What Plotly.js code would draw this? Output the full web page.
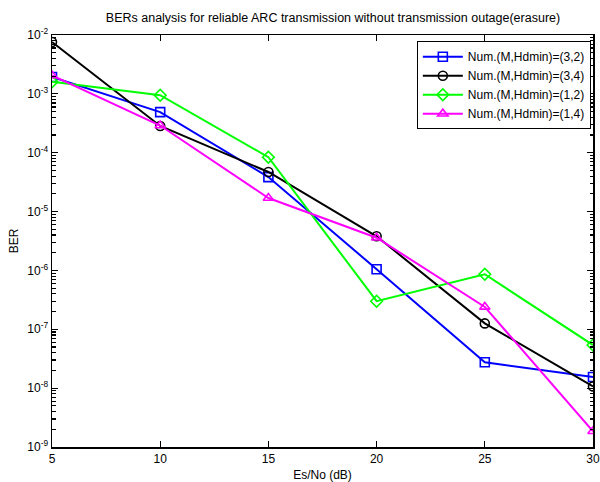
<!DOCTYPE html>
<html>
<head>
<meta charset="utf-8">
<script src="https://cdn.plot.ly/plotly-3.0.1.min.js"></script>
<style>html,body{margin:0;padding:0;background:#fff;}#chart{width:600px;height:482px;}</style>
</head>
<body>
<div id="chart"></div>
<script>
const esNo = [5, 10, 15, 20, 25, 30];
const ber_3_2 = [1.93e-3, 4.9e-4, 3.85e-5, 1.05e-6, 2.75e-8, 1.55e-8];
const ber_3_4 = [7.6e-3, 2.85e-4, 4.7e-5, 3.8e-6, 1.26e-7, 1.07e-8];
const ber_1_2 = [1.6e-3, 9.5e-4, 8.4e-5, 3.0e-7, 8.6e-7, 5.4e-8];
const ber_1_4 = [2.05e-3, 2.9e-4, 1.7e-5, 3.6e-6, 2.4e-7, 1.85e-9];
const seriesNames = ['Num.(M,Hdmin)=(3,2)', 'Num.(M,Hdmin)=(3,4)', 'Num.(M,Hdmin)=(1,2)', 'Num.(M,Hdmin)=(1,4)'];
const xTicks = [5, 10, 15, 20, 25, 30];
const yTickExp = [-2, -3, -4, -5, -6, -7, -8, -9];

const colors = ['#0000ff', '#000000', '#00ff00', '#ff00ff'];
const symbols = ['square-open', 'circle-open', 'diamond-open', 'triangle-up-open'];
const allY = [ber_3_2, ber_3_4, ber_1_2, ber_1_4];

const traces = allY.map((ys, i) => ({
  x: esNo, y: ys, name: seriesNames[i], type: 'scatter', mode: 'lines+markers',
  line: {color: colors[i], width: 2},
  marker: {symbol: symbols[i], size: 9, color: colors[i], line: {width: 1.6, color: colors[i]}}
}));

const yTickVals = yTickExp.map(e => Math.pow(10, e));
const yTickText = yTickExp.map(e => '10<sup>' + e + '</sup>');
const minorVals = [];
yTickExp.slice(1).forEach(e => { for (let k = 2; k <= 9; k++) minorVals.push(k * Math.pow(10, e)); });

// transparent helper trace so the minor-tick overlay axis gets drawn
traces.unshift({x: esNo, y: ber_3_4, yaxis: 'y2', type: 'scatter', mode: 'markers',
  marker: {opacity: 0, size: 1}, showlegend: false, hoverinfo: 'skip'});

const layout = {
  width: 600, height: 482,
  margin: {l: 52, r: 7, t: 35, b: 35},
  paper_bgcolor: '#fff', plot_bgcolor: '#fff',
  font: {family: 'Liberation Sans, Arial, sans-serif', size: 12, color: '#000'},
  title: {text: 'BERs analysis for reliable ARC transmission without transmission outage(erasure)',
          x: 0.555, xanchor: 'center', y: 0.963, yanchor: 'middle', font: {size: 12.5}},
  xaxis: {
    range: [5, 30], tickvals: xTicks, ticktext: xTicks.map(String),
    ticks: 'inside', ticklen: 6, tickwidth: 1.2, tickcolor: '#000', showgrid: false, zeroline: false,
    showline: true, linecolor: '#000', linewidth: 1.5, mirror: 'ticks',
    tickfont: {size: 12},
    title: {text: 'Es/No (dB)', standoff: 6, font: {size: 12}}
  },
  yaxis: {
    type: 'log', range: [-9, -2], tickvals: yTickVals, ticktext: yTickText,
    ticks: 'inside', ticklen: 6, tickwidth: 1.2, tickcolor: '#000', showgrid: false, zeroline: false,
    showline: true, linecolor: '#000', linewidth: 1.5, mirror: 'ticks',
    tickfont: {size: 12},
    title: {text: 'BER', standoff: 6, font: {size: 12}}
  },
  yaxis2: {
    type: 'log', range: [-9, -2], overlaying: 'y', anchor: 'x', side: 'left',
    tickmode: 'array', tickvals: minorVals, showticklabels: false,
    ticks: 'inside', ticklen: 3.5, tickwidth: 1.2, tickcolor: '#000',
    showgrid: false, zeroline: false,
    showline: true, linecolor: '#000', linewidth: 1.5, mirror: 'ticks'
  },
  showlegend: true,
  legend: {x: 0.996, xanchor: 'right', y: 0.985, yanchor: 'top',
           bgcolor: '#fff', bordercolor: '#000', borderwidth: 1,
           font: {size: 12}, tracegroupgap: 0, itemwidth: 40}
};

Plotly.newPlot('chart', traces, layout, {staticPlot: true, displayModeBar: false});
</script>
</body>
</html>
